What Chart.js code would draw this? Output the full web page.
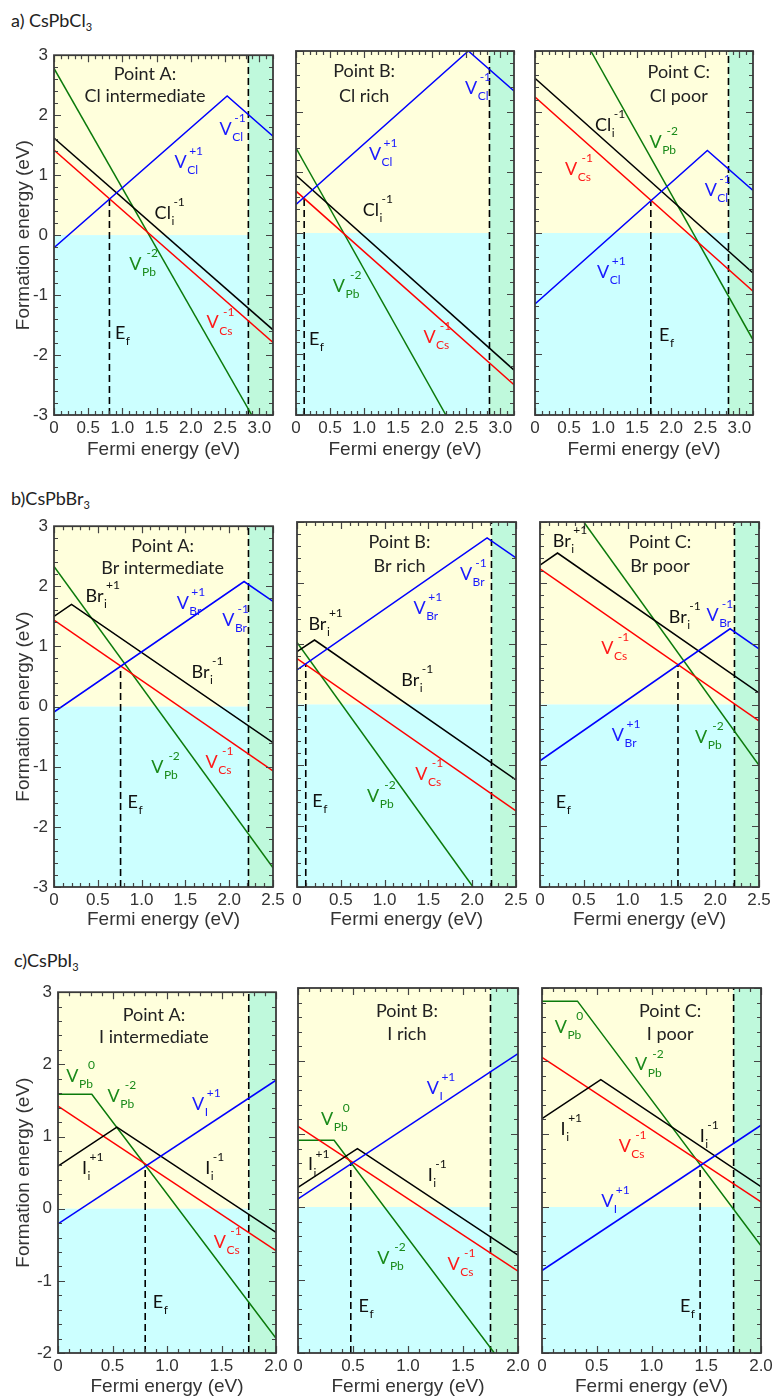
<!DOCTYPE html>
<html>
<head>
<meta charset="utf-8">
<script src="https://cdn.jsdelivr.net/npm/chart.js@4.4.1/dist/chart.umd.min.js"></script>
<style>
body { margin: 0; background: #fff; }
#fig { position: relative; width: 775px; height: 1397px; font-family: Lato, sans-serif; color: #222; overflow: hidden; }
#fig canvas { position: absolute; }
.rowlab { position: absolute; font-size: 18px; line-height: 20px; white-space: nowrap; }
.rowlab sub { font-size: 11px; vertical-align: -4px; }
</style>
</head>
<body>
<div id="fig">
  <div class="rowlab" style="left:11px;top:10px">a) CsPbCl<sub>3</sub></div>
  <div class="rowlab" style="left:11px;top:488px">b)CsPbBr<sub>3</sub></div>
  <div class="rowlab" style="left:14px;top:950px">c)CsPbI<sub>3</sub></div>
</div>
<script>
// energias de formacion (eV) contra energia de Fermi (eV)

// ---- CsPbCl3 ----
const clXMax = 3.2;
const clGap = 2.84;
const clXTicks = [0, 0.5, 1.0, 1.5, 2.0, 2.5, 3.0];
const clYTicks = [-3, -2, -1, 0, 1, 2, 3];
// punto A
const clA_VCl = [[0, -0.21], [2.53, 2.32], [3.2, 1.65]];
const clA_Cli = [[0, 1.62], [3.2, -1.58]];
const clA_VCs = [[0, 1.42], [3.2, -1.79]];
const clA_VPb = [[0, 2.78], [2.89, -3]];
const clA_Ef = [0.81, 0.6];
// punto B
const clB_VCl = [[0, 0.47], [2.53, 3.0], [3.2, 2.34]];
const clB_Cli = [[0, 0.95], [3.2, -2.26]];
const clB_VCs = [[0, 0.69], [3.2, -2.5]];
const clB_VPb = [[0, 1.40], [2.2, -3]];
const clB_Ef = [0.12, 0.58];
// punto C
const clC_VCl = [[0, -1.17], [2.53, 1.36], [3.2, 0.70]];
const clC_Cli = [[0, 2.55], [3.2, -0.66]];
const clC_VCs = [[0, 2.24], [3.2, -0.96]];
const clC_VPb = [[0.82, 3], [3.2, -1.76]];
const clC_Ef = [1.70, 0.54];

// ---- CsPbBr3 ----
const brXMax = 2.5;
const brGap = 2.22;
const brXTicks = [0, 0.5, 1.0, 1.5, 2.0, 2.5];
const brYTicks = [-3, -2, -1, 0, 1, 2, 3];
const brA_VBr = [[0, -0.09], [2.17, 2.08], [2.5, 1.75]];
const brA_Bri = [[0, 1.50], [0.2, 1.70], [2.5, -0.60]];
const brA_VCs = [[0, 1.44], [2.5, -1.07]];
const brA_VPb = [[0, 2.33], [2.5, -2.68]];
const brA_Ef = [0.76, 0.675];

const brB_VBr = [[0, 0.57], [2.17, 2.74], [2.5, 2.41]];
const brB_Bri = [[0, 0.87], [0.2, 1.06], [2.5, -1.24]];
const brB_VCs = [[0, 0.755], [2.5, -1.75]];
const brB_VPb = [[0, 1.02], [2.01, -3]];
const brB_Ef = [0.1, 0.665];

const brC_VBr = [[0, -0.925], [2.17, 1.245], [2.5, 0.915]];
const brC_Bri = [[0, 2.29], [0.2, 2.49], [2.5, 0.19]];
const brC_VCs = [[0, 2.23], [2.5, -0.27]];
const brC_VPb = [[0.5, 3], [2.5, -1.0]];
const brC_Ef = [1.575, 0.655];

// ---- CsPbI3 ----
const iXMax = 2.0;
const iGap = 1.75;
const iXTicks = [0, 0.5, 1.0, 1.5, 2.0];
const iYTicks = [-2, -1, 0, 1, 2, 3];
const iA_VI = [[0, -0.21], [2, 1.78]];
const iA_Ii = [[0, 0.59], [0.54, 1.13], [2, -0.33]];
const iA_VCs = [[0, 1.42], [2, -0.58]];
const iA_VPb = [[0, 1.585], [0.31, 1.585], [2, -1.795]];
const iA_Ef = [0.80, 0.6];

const iB_VI = [[0, 0.11], [2, 2.1]];
const iB_Ii = [[0, 0.27], [0.54, 0.80], [2, -0.66]];
const iB_VCs = [[0, 1.105], [2, -0.88]];
const iB_VPb = [[0, 0.913], [0.328, 0.913], [1.785, -2]];
const iB_Ef = [0.48, 0.6];

const iC_VI = [[0, -0.87], [2, 1.12]];
const iC_Ii = [[0, 1.21], [0.537, 1.745], [2, 0.28]];
const iC_VCs = [[0, 2.05], [2, 0.07]];
const iC_VPb = [[0, 2.82], [0.324, 2.82], [2, -0.53]];
const iC_Ef = [1.444, 0.575];

// etiquetas de los defectos: x, y, base, subindice, superindice, color
const labClA = [[2.42, 1.77, 'V', 'Cl', '-1', 'b'], [1.76, 1.22, 'V', 'Cl', '+1', 'b'], [1.47, 0.37, 'Cl', 'i', '-1', 'k'],
  [1.10, -0.48, 'V', 'Pb', '-2', 'g'], [2.23, -1.46, 'V', 'Cs', '-1', 'r'], [0.89, -1.64, 'E', 'f', '', 'k']];
const labClB = [[2.48, 2.39, 'V', 'Cl', '-1', 'b'], [1.07, 1.30, 'V', 'Cl', '+1', 'b'], [0.98, 0.37, 'Cl', 'i', '-1', 'k'],
  [0.54, -0.87, 'V', 'Pb', '-2', 'g'], [1.87, -1.72, 'V', 'Cs', '-1', 'r'], [0.19, -1.75, 'E', 'f', '', 'k']];
const labClC = [[0.88, 1.77, 'Cl', 'i', '-1', 'k'], [1.68, 1.49, 'V', 'Pb', '-2', 'g'], [0.44, 1.05, 'V', 'Cs', '-1', 'r'],
  [2.49, 0.70, 'V', 'Cl', '-1', 'b'], [0.91, -0.65, 'V', 'Cl', '+1', 'b'], [1.82, -1.69, 'E', 'f', '', 'k']];
const labBrA = [[0.36, 1.83, 'Br', 'i', '+1', 'k'], [1.40, 1.72, 'V', 'Br', '+1', 'b'], [1.92, 1.44, 'V', 'Br', '-1', 'b'],
  [1.57, 0.58, 'Br', 'i', '-1', 'k'], [1.11, -1.0, 'V', 'Pb', '-2', 'g'], [1.73, -0.93, 'V', 'Cs', '-1', 'r'], [0.84, -1.59, 'E', 'f', '', 'k']];
const labBrB = [[1.86, 2.15, 'V', 'Br', '-1', 'b'], [1.33, 1.58, 'V', 'Br', '+1', 'b'], [0.13, 1.32, 'Br', 'i', '+1', 'k'],
  [1.19, 0.40, 'Br', 'i', '-1', 'k'], [1.35, -1.15, 'V', 'Cs', '-1', 'r'], [0.80, -1.5, 'V', 'Pb', '-2', 'g'], [0.175, -1.59, 'E', 'f', '', 'k']];
const labBrC = [[0.145, 2.68, 'Br', 'i', '+1', 'k'], [1.47, 1.44, 'Br', 'i', '-1', 'k'], [1.90, 1.47, 'V', 'Br', '-1', 'b'],
  [0.70, 0.92, 'V', 'Cs', '-1', 'r'], [0.82, -0.51, 'V', 'Br', '+1', 'b'], [1.77, -0.54, 'V', 'Pb', '-2', 'g'], [0.18, -1.61, 'E', 'f', '', 'k']];
const labIA = [[0.076, 1.84, 'V', 'Pb', '0', 'g'], [0.455, 1.56, 'V', 'Pb', '-2', 'g'], [1.23, 1.45, 'V', 'I', '+1', 'b'],
  [0.22, 0.56, 'I', 'i', '+1', 'k'], [1.35, 0.56, 'I', 'i', '-1', 'k'], [1.43, -0.46, 'V', 'Cs', '-1', 'r'], [0.87, -1.29, 'E', 'f', '', 'k']];
const labIB = [[1.17, 1.63, 'V', 'I', '+1', 'b'], [0.21, 1.2, 'V', 'Pb', '0', 'g'], [0.09, 0.58, 'I', 'i', '+1', 'k'],
  [1.18, 0.44, 'I', 'i', '-1', 'k'], [0.72, -0.70, 'V', 'Pb', '-2', 'g'], [1.36, -0.78, 'V', 'Cs', '-1', 'r'], [0.55, -1.36, 'E', 'f', '', 'k']];
const labIC = [[0.116, 2.47, 'V', 'Pb', '0', 'g'], [0.85, 1.95, 'V', 'Pb', '-2', 'g'], [0.17, 1.06, 'I', 'i', '+1', 'k'],
  [0.70, 0.83, 'V', 'Cs', '-1', 'r'], [1.44, 0.97, 'I', 'i', '-1', 'k'], [0.54, 0.08, 'V', 'I', '+1', 'b'], [1.26, -1.36, 'E', 'f', '', 'k']];

const colores = { b: '#0000ff', k: '#000000', r: '#ff0000', g: '#0b7a0b' };
const colTexto = { b: '#1a1aff', k: '#111111', r: '#ff1a1a', g: '#1a8a1a' };

// filas (posicion de cada grafica en la pagina)
const filas = {
  cl: { xMax: clXMax, yMin: -3, yMax: 3, gap: clGap, xTicks: clXTicks, yTicks: clYTicks, top: 51, bottom: 415, lefts: [54, 296, 535], rights: [273, 514, 753], xh: 48 },
  br: { xMax: brXMax, yMin: -3, yMax: 3, gap: brGap, xTicks: brXTicks, yTicks: brYTicks, top: 522, bottom: 887, lefts: [54, 297, 540], rights: [273, 516, 759], xh: 46 },
  i:  { xMax: iXMax, yMin: -2, yMax: 3, gap: iGap, xTicks: iXTicks, yTicks: iYTicks, top: 988, bottom: 1353, lefts: [58, 298, 542], rights: [276, 518, 761], xh: 47 }
};

const paneles = [
  { fila: 'cl', col: 0, titulo: ['Point A:', 'Cl intermediate'], tx: 1.33, ty: [2.69, 2.32], series: [[clA_VCl, 'b'], [clA_Cli, 'k'], [clA_VCs, 'r'], [clA_VPb, 'g']], ef: clA_Ef, labels: labClA },
  { fila: 'cl', col: 1, titulo: ['Point B:', 'Cl rich'], tx: 1.0, ty: [2.66, 2.26], series: [[clB_VCl, 'b'], [clB_Cli, 'k'], [clB_VCs, 'r'], [clB_VPb, 'g']], ef: clB_Ef, labels: labClB },
  { fila: 'cl', col: 2, titulo: ['Point C:', 'Cl poor'], tx: 2.11, ty: [2.65, 2.25], series: [[clC_VCl, 'b'], [clC_Cli, 'k'], [clC_VCs, 'r'], [clC_VPb, 'g']], ef: clC_Ef, labels: labClC },
  { fila: 'br', col: 0, titulo: ['Point A:', 'Br intermediate'], tx: 1.24, ty: [2.66, 2.31], series: [[brA_VBr, 'b'], [brA_Bri, 'k'], [brA_VCs, 'r'], [brA_VPb, 'g']], ef: brA_Ef, labels: labBrA },
  { fila: 'br', col: 1, titulo: ['Point B:', 'Br rich'], tx: 1.17, ty: [2.66, 2.28], series: [[brB_VBr, 'b'], [brB_Bri, 'k'], [brB_VCs, 'r'], [brB_VPb, 'g']], ef: brB_Ef, labels: labBrB },
  { fila: 'br', col: 2, titulo: ['Point C:', 'Br poor'], tx: 1.37, ty: [2.66, 2.28], series: [[brC_VBr, 'b'], [brC_Bri, 'k'], [brC_VCs, 'r'], [brC_VPb, 'g']], ef: brC_Ef, labels: labBrC },
  { fila: 'i', col: 0, titulo: ['Point A:', 'I intermediate'], tx: 0.88, ty: [2.68, 2.37], series: [[iA_VI, 'b'], [iA_Ii, 'k'], [iA_VCs, 'r'], [iA_VPb, 'g']], ef: iA_Ef, labels: labIA },
  { fila: 'i', col: 1, titulo: ['Point B:', 'I rich'], tx: 0.99, ty: [2.68, 2.37], series: [[iB_VI, 'b'], [iB_Ii, 'k'], [iB_VCs, 'r'], [iB_VPb, 'g']], ef: iB_Ef, labels: labIB },
  { fila: 'i', col: 2, titulo: ['Point C:', 'I poor'], tx: 1.17, ty: [2.68, 2.37], series: [[iC_VI, 'b'], [iC_Ii, 'k'], [iC_VCs, 'r'], [iC_VPb, 'g']], ef: iC_Ef, labels: labIC }
];

function dibujarEtiqueta(ctx, px, py, base, sub, sup, color) {
  ctx.fillStyle = color;
  ctx.textAlign = 'left';
  ctx.textBaseline = 'middle';
  ctx.font = '18px Lato';
  ctx.fillText(base, px, py);
  const bw = ctx.measureText(base).width;
  ctx.font = '12px Lato';
  const sx = px + bw + 0.5;
  let sw = 0;
  if (sub) {
    ctx.fillText(sub, sx, py + 8);
    sw = ctx.measureText(sub).width;
  }
  if (sup) {
    const uw = ctx.measureText(sup).width;
    ctx.fillText(sup, sx + Math.max(sw - uw, 0) + 2, py - 11);
  }
}

// fondo de colores, marco, marcas interiores y textos
const decorado = {
  id: 'decorado',
  beforeDatasetsDraw(chart) {
    const o = chart.options.plugins.decorado;
    const { ctx, chartArea: a, scales: { x, y } } = chart;
    const gx = x.getPixelForValue(o.gap);
    const y0 = y.getPixelForValue(0);
    ctx.save();
    ctx.fillStyle = '#ffffdc';
    ctx.fillRect(a.left, a.top, gx - a.left, y0 - a.top);
    ctx.fillStyle = '#ccffff';
    ctx.fillRect(a.left, y0, gx - a.left, a.bottom - y0);
    ctx.fillStyle = '#bff9dc';
    ctx.fillRect(gx, a.top, a.right - gx, a.bottom - a.top);
    ctx.restore();
  },
  afterDatasetsDraw(chart) {
    const o = chart.options.plugins.decorado;
    const { ctx, chartArea: a, scales: { x, y } } = chart;
    ctx.save();
    // marcas
    ctx.strokeStyle = '#444';
    ctx.lineWidth = 1.2;
    ctx.beginPath();
    for (let i = 0; i <= Math.round(o.xMax * 10); i++) {
      const px = Math.round(x.getPixelForValue(i / 10)) + 0.5;
      const l = i % 5 === 0 ? 7 : 4;
      ctx.moveTo(px, a.bottom); ctx.lineTo(px, a.bottom - l);
      ctx.moveTo(px, a.top); ctx.lineTo(px, a.top + l);
    }
    for (let i = Math.round(o.yMin * 5); i <= Math.round(o.yMax * 5); i++) {
      const py = Math.round(y.getPixelForValue(i / 5)) + 0.5;
      const l = i % 5 === 0 ? 7 : 4;
      ctx.moveTo(a.left, py); ctx.lineTo(a.left + l, py);
      ctx.moveTo(a.right, py); ctx.lineTo(a.right - l, py);
    }
    ctx.stroke();
    // marco
    ctx.lineWidth = 1.8;
    ctx.strokeStyle = '#3a3a3a';
    ctx.strokeRect(a.left, a.top, a.right - a.left, a.bottom - a.top);
    // titulo del panel
    ctx.fillStyle = '#222';
    ctx.font = '18px Lato';
    ctx.textAlign = 'center';
    ctx.textBaseline = 'middle';
    o.titulo.forEach(function(t, k) {
      ctx.fillText(t, x.getPixelForValue(o.tx), y.getPixelForValue(o.ty[k]));
    });
    // etiquetas de defectos
    o.labels.forEach(function(e) {
      dibujarEtiqueta(ctx, x.getPixelForValue(e[0]), y.getPixelForValue(e[1]), e[2], e[3], e[4], colTexto[e[5]]);
    });
    ctx.restore();
  }
};

const fig = document.getElementById('fig');
const fuenteEje = 'Liberation Sans';

paneles.forEach(function(p) {
  const r = filas[p.fila];
  const izq = p.col === 0;
  const plotL = r.lefts[p.col], plotR = r.rights[p.col];
  const padL = izq ? 0 : 16, padR = 16, padT = 12;
  const w = (izq ? plotL : padL) + (plotR - plotL) + padR;
  const h = padT + (r.bottom - r.top) + r.xh;

  const canvas = document.createElement('canvas');
  canvas.width = w;
  canvas.height = h;
  canvas.style.width = w + 'px';
  canvas.style.height = h + 'px';
  canvas.style.left = (izq ? 0 : plotL - padL) + 'px';
  canvas.style.top = (r.top - padT) + 'px';
  fig.appendChild(canvas);

  const datasets = p.series.map(function(s) {
    return {
      data: s[0].map(function(pt) { return { x: pt[0], y: pt[1] }; }),
      borderColor: colores[s[1]],
      borderWidth: 1.5,
      showLine: true,
      pointRadius: 0,
      fill: false
    };
  });
  // linea del nivel de Fermi y borde de la banda
  datasets.push({
    data: [{ x: p.ef[0], y: r.yMin }, { x: p.ef[0], y: p.ef[1] }],
    borderColor: '#000', borderWidth: 1.6, borderDash: [7, 4], showLine: true, pointRadius: 0
  });
  datasets.push({
    data: [{ x: r.gap, y: r.yMin }, { x: r.gap, y: r.yMax }],
    borderColor: '#000', borderWidth: 1.6, borderDash: [7, 4], showLine: true, pointRadius: 0
  });

  new Chart(canvas, {
    type: 'scatter',
    data: { datasets: datasets },
    plugins: [decorado],
    options: {
      responsive: false,
      animation: false,
      devicePixelRatio: 1,
      layout: { autoPadding: false, padding: { left: padL, right: padR, top: padT, bottom: 0 } },
      plugins: {
        legend: { display: false },
        tooltip: { enabled: false },
        decorado: {
          gap: r.gap, xMax: r.xMax, yMin: r.yMin, yMax: r.yMax,
          titulo: p.titulo, tx: p.tx, ty: p.ty, labels: p.labels
        }
      },
      scales: {
        x: {
          type: 'linear', min: 0, max: r.xMax,
          afterFit: function(s) { s.height = r.xh; },
          afterBuildTicks: function(s) { s.ticks = r.xTicks.map(function(v) { return { value: v }; }); },
          grid: { display: false, drawTicks: false },
          border: { display: false },
          ticks: {
            padding: 3, autoSkip: false, maxRotation: 0, color: '#333',
            font: { family: fuenteEje, size: 17 },
            callback: function(v) { return v === 0 ? '0' : Number(v).toFixed(1); }
          },
          title: { display: true, text: 'Fermi energy (eV)', color: '#333', font: { family: fuenteEje, size: 19 }, padding: { top: 0, bottom: 2 } }
        },
        y: {
          type: 'linear', min: r.yMin, max: r.yMax,
          display: izq,
          afterFit: function(s) { s.width = izq ? plotL : 0; },
          afterBuildTicks: function(s) { s.ticks = r.yTicks.map(function(v) { return { value: v }; }); },
          grid: { display: false, drawTicks: false },
          border: { display: false },
          ticks: { padding: 6, autoSkip: false, color: '#333', font: { family: fuenteEje, size: 17 } },
          title: { display: true, text: 'Formation energy (eV)', color: '#333', font: { family: fuenteEje, size: 19 }, padding: { top: 12, bottom: 0 } }
        }
      }
    }
  });
});
</script>
</body>
</html>
